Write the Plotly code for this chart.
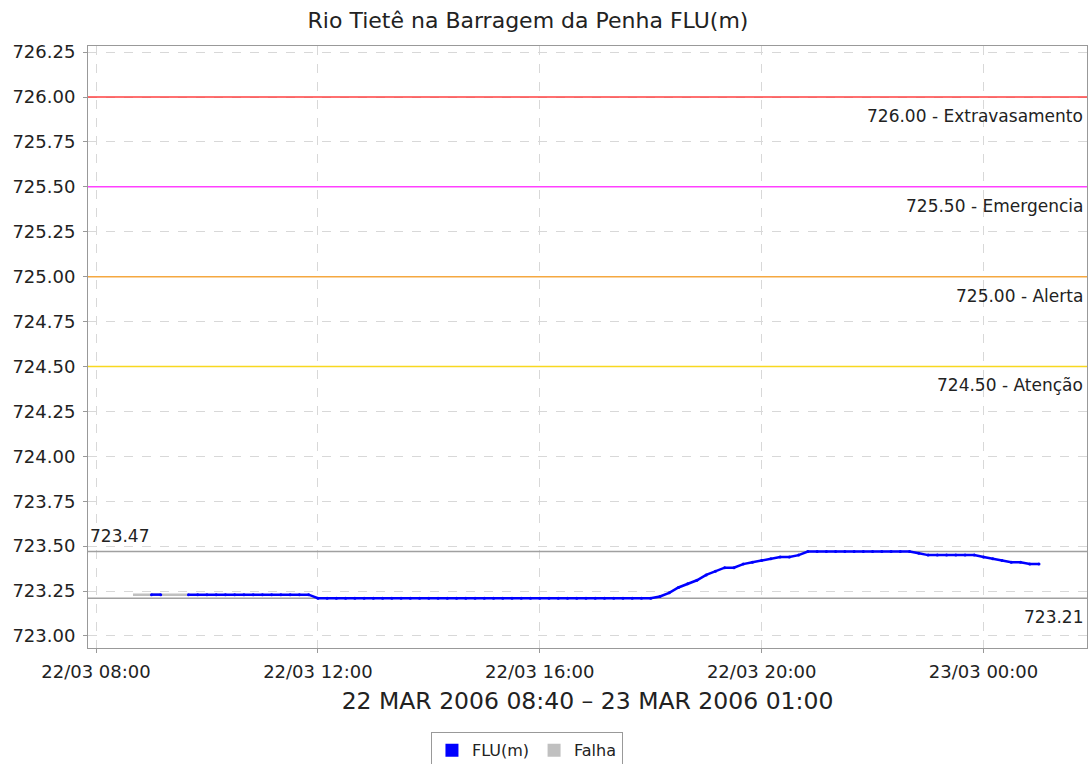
import pandas as pd
import plotly.graph_objects as go

# ---- data ----
flu_start = "2006-03-22 09:00"
flu_end = "2006-03-23 01:00"
flu_values = [
    723.23, 723.23, None, None,
    723.23, 723.23, 723.23, 723.23, 723.23, 723.23, 723.23,
    723.23, 723.23, 723.23, 723.23, 723.23, 723.23, 723.23,
    723.21, 723.21, 723.21, 723.21, 723.21, 723.21, 723.21, 723.21, 723.21,
    723.21, 723.21, 723.21, 723.21, 723.21, 723.21, 723.21, 723.21, 723.21,
    723.21, 723.21, 723.21, 723.21, 723.21, 723.21, 723.21, 723.21, 723.21,
    723.21, 723.21, 723.21, 723.21, 723.21, 723.21, 723.21, 723.21, 723.21,
    723.21, 723.22, 723.24, 723.27, 723.29, 723.31, 723.34, 723.36, 723.38,
    723.38, 723.40, 723.41, 723.42, 723.43, 723.44, 723.44, 723.45,
    723.47, 723.47, 723.47, 723.47, 723.47, 723.47, 723.47, 723.47, 723.47,
    723.47, 723.47, 723.47,
    723.46, 723.45, 723.45, 723.45, 723.45, 723.45, 723.45,
    723.44, 723.43, 723.42, 723.41, 723.41, 723.40, 723.40,
]
falha_times = ["2006-03-22 08:40", "2006-03-22 08:50", "2006-03-22 09:00",
               "2006-03-22 09:10", "2006-03-22 09:20", "2006-03-22 09:30",
               "2006-03-22 09:40"]
falha_values = [723.23, 723.23, 723.23, 723.23, 723.23, 723.23, 723.23]

threshold_values = [726.00, 725.50, 725.00, 724.50]
threshold_names = ["Extravasamento", "Emergencia", "Alerta", "Atenção"]
threshold_colors = ["#ff4040", "#ff40ff", "#f5a840", "#f8d820"]

max_value = 723.47
min_value = 723.21

y_ticks = [723.00, 723.25, 723.50, 723.75, 724.00, 724.25, 724.50, 724.75,
           725.00, 725.25, 725.50, 725.75, 726.00, 726.25]
x_ticks = ["2006-03-22 08:00", "2006-03-22 12:00", "2006-03-22 16:00",
           "2006-03-22 20:00", "2006-03-23 00:00"]
x_tick_labels = ["22/03 08:00", "22/03 12:00", "22/03 16:00",
                 "22/03 20:00", "23/03 00:00"]
x_range = ["2006-03-22 07:51:21", "2006-03-23 01:51:55"]
y_range = [722.933, 726.284]

title_text = "Rio Tietê na Barragem da Penha FLU(m)"
x_title = "22 MAR 2006 08:40 – 23 MAR 2006 01:00"

flu_times = pd.date_range(flu_start, flu_end, freq="10min")

FONT = "DejaVu Sans"
TXT = "#222"
fig = go.Figure()


def hline_trace(v, color):
    return go.Scatter(x=x_range, y=[v, v], mode="lines",
                      line=dict(color=color, width=1.5),
                      showlegend=False, hoverinfo="skip")


# threshold lines
for v, name, c in zip(threshold_values, threshold_names, threshold_colors):
    fig.add_trace(hline_trace(v, c))
    fig.add_annotation(x=1, xref="paper", y=v, yref="y", xanchor="right",
                       yanchor="middle", yshift=-19, xshift=-2, showarrow=False,
                       text=f"{v:.2f} - {name}",
                       font=dict(family=FONT, size=17, color=TXT))

fig.add_trace(hline_trace(max_value, "#a0a0a0"))
fig.add_trace(hline_trace(min_value, "#a0a0a0"))
fig.add_annotation(x=0, xref="paper", y=max_value, yref="y", xanchor="left",
                   yanchor="middle", yshift=16, showarrow=False,
                   text=f"{max_value:.2f}", font=dict(family=FONT, size=17, color=TXT))
fig.add_annotation(x=1, xref="paper", y=min_value, yref="y", xanchor="right",
                   yanchor="middle", yshift=-19, xshift=-2, showarrow=False,
                   text=f"{min_value:.2f}", font=dict(family=FONT, size=17, color=TXT))

fig.add_trace(go.Scatter(x=falha_times, y=falha_values, mode="lines",
                         line=dict(color="#c0c0c0", width=2.5),
                         showlegend=False, hoverinfo="skip"))
fig.add_trace(go.Scatter(x=flu_times, y=flu_values, mode="lines+markers",
                         line=dict(color="#0000ff", width=2.5),
                         marker=dict(size=3, color="#0000ff"),
                         showlegend=False, connectgaps=False))

# legend entries
fig.add_trace(go.Scatter(x=[None], y=[None], mode="markers", name="FLU(m)",
                         marker=dict(symbol="square", size=13, color="#0000ff")))
fig.add_trace(go.Scatter(x=[None], y=[None], mode="markers", name="Falha",
                         marker=dict(symbol="square", size=13, color="#c0c0c0")))

fig.update_layout(
    width=1092, height=764,
    margin=dict(l=88, r=5, t=46, b=116, autoexpand=False),
    paper_bgcolor="white", plot_bgcolor="white",
    font=dict(family=FONT, color="#333"),
    title=dict(text=title_text, xref="container", x=0.4835, xanchor="center",
               yref="container", y=0.974, yanchor="middle",
               font=dict(family=FONT, size=22, color=TXT)),
    legend=dict(orientation="h", x=0.4394, xanchor="center", y=-0.14,
                yanchor="top", bordercolor="#999", borderwidth=1,
                font=dict(family=FONT, size=16, color=TXT),
                itemwidth=30, tracegroupgap=0),
    showlegend=True,
)
fig.update_xaxes(
    range=x_range, automargin=False,
    tickvals=x_ticks, ticktext=x_tick_labels,
    showline=True, linecolor="#999", linewidth=1, mirror=True,
    ticks="outside", ticklen=4, tickcolor="#999", ticklabelstandoff=3,
    showgrid=True, gridcolor="#d8d8d8", griddash="dash", gridwidth=1,
    zeroline=False,
    tickfont=dict(family=FONT, size=18, color=TXT),
    title=dict(text=x_title, standoff=11, font=dict(family=FONT, size=23.5, color=TXT)),
)
fig.update_yaxes(
    range=y_range, automargin=False,
    tickvals=y_ticks, tickformat=".2f",
    showline=True, linecolor="#999", linewidth=1, mirror=True,
    ticks="outside", ticklen=4, tickcolor="#999", ticklabelstandoff=4,
    showgrid=True, gridcolor="#d8d8d8", griddash="dash", gridwidth=1,
    zeroline=False,
    tickfont=dict(family=FONT, size=18, color=TXT),
)

fig.write_html("out.html", config={"displayModeBar": False},
               post_script="document.body.style.margin='0px';")
